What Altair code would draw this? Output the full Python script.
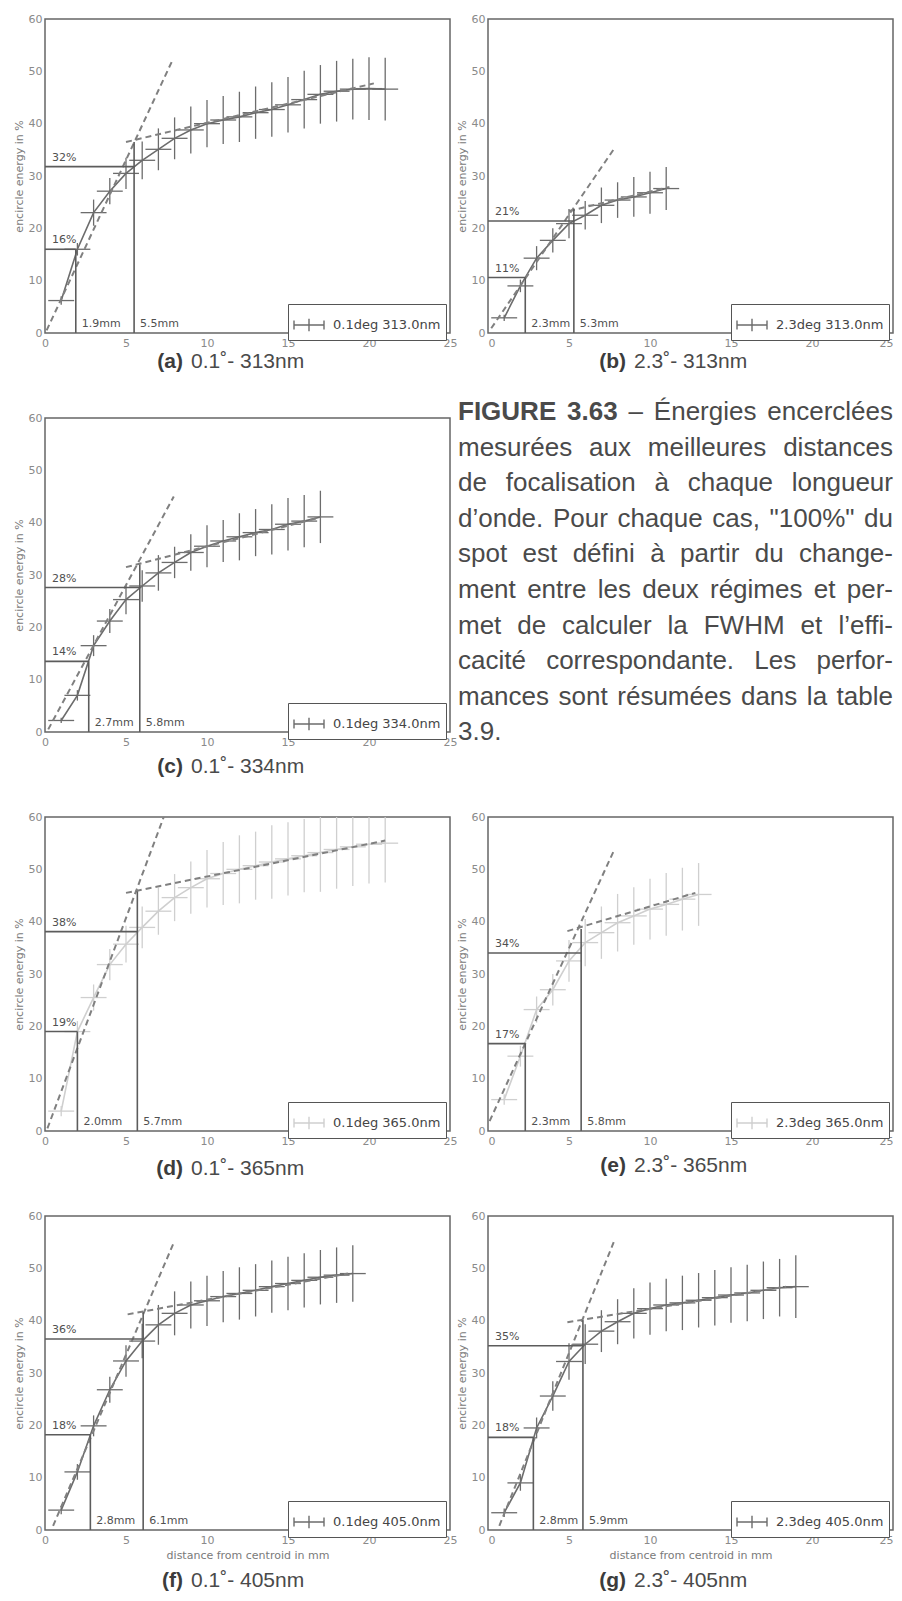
import altair as alt
import pandas as pd

# ---------------- data ----------------
DIST = [1, 2, 3, 4, 5, 6, 7, 8, 9, 10, 11, 12, 13, 14, 15, 16, 17, 18, 19, 20, 21]
X_TICKS = [0, 5, 10, 15, 20, 25]
Y_TICKS = [0, 10, 20, 30, 40, 50, 60]
XERR = 0.8

# (a) 0.1deg 313nm
A_Y = [6.2, 16.0, 23.0, 27.1, 30.5, 33.0, 35.1, 37.2, 38.8, 40.0, 40.7, 41.3, 42.1, 42.7, 43.6, 44.6, 45.6, 46.2, 46.6, 46.7, 46.6]
A_YERR = [0.8, 1.2, 2.5, 2.5, 3.0, 3.6, 4.0, 4.0, 4.5, 4.5, 4.6, 4.8, 5.0, 5.2, 5.3, 5.5, 5.6, 5.8, 5.8, 6.0, 6.0]
A_STEEP = ([0.1, 7.85], [0.5, 52.0])
A_FLAT = ([5.0, 20.3], [36.5, 47.7])
A_CUT_X = [1.9, 5.5]
A_CUT_Y = [16.0, 31.8]
A_KNEE = 36.5
A_PCT = ["16%", "32%"]
A_MM = ["1.9mm", "5.5mm"]

# (b) 2.3deg 313nm
B_Y = [2.9, 9.0, 14.3, 17.7, 20.9, 22.5, 24.4, 25.4, 26.0, 26.8, 27.6]
B_YERR = [0.6, 1.2, 2.3, 2.3, 2.8, 2.7, 3.4, 3.4, 3.8, 4.0, 4.1]
B_STEEP = ([0.2, 7.85], [0.9, 35.5])
B_FLAT = ([5.0, 11.2], [23.3, 27.9])
B_CUT_X = [2.3, 5.3]
B_CUT_Y = [10.6, 21.4]
B_KNEE = 23.7
B_PCT = ["11%", "21%"]
B_MM = ["2.3mm", "5.3mm"]

# (c) 0.1deg 334nm
C_Y = [2.2, 7.0, 16.5, 21.2, 25.3, 27.9, 30.4, 32.4, 34.3, 35.5, 36.5, 37.3, 38.1, 38.7, 39.7, 40.3, 41.1]
C_YERR = [0.5, 1.0, 2.0, 2.3, 2.8, 3.0, 3.4, 3.0, 3.5, 4.0, 4.0, 4.5, 4.5, 4.8, 5.0, 5.0, 5.0]
C_STEEP = ([0.2, 7.95], [0.5, 45.0])
C_FLAT = ([5.0, 17.0], [31.5, 41.0])
C_CUT_X = [2.7, 5.85]
C_CUT_Y = [13.5, 27.6]
C_KNEE = 32.0
C_PCT = ["14%", "28%"]
C_MM = ["2.7mm", "5.8mm"]

# (d) 0.1deg 365nm
D_Y = [3.8, 19.0, 25.5, 31.8, 35.7, 38.9, 42.0, 44.6, 46.5, 48.2, 49.2, 50.0, 50.7, 51.4, 52.0, 52.6, 53.2, 53.8, 54.3, 54.8, 55.0]
D_YERR = [1.0, 2.0, 2.5, 3.0, 3.5, 4.0, 4.5, 4.5, 5.0, 5.5, 6.0, 6.5, 6.5, 7.0, 7.0, 7.0, 7.5, 7.5, 7.5, 7.5, 7.5]
D_STEEP = ([0.15, 7.45], [0.5, 61.0])
D_FLAT = ([5.0, 21.0], [45.5, 55.5])
D_CUT_X = [2.0, 5.7]
D_CUT_Y = [19.0, 38.1]
D_KNEE = 45.8
D_PCT = ["19%", "38%"]
D_MM = ["2.0mm", "5.7mm"]

# (e) 2.3deg 365nm
E_Y = [6.0, 14.3, 23.2, 27.0, 32.5, 36.0, 37.9, 39.8, 41.1, 42.4, 43.3, 44.3, 45.2]
E_YERR = [1.0, 2.0, 2.5, 3.0, 4.0, 4.5, 5.0, 5.5, 5.5, 5.8, 6.0, 6.0, 6.0]
E_STEEP = ([0.1, 7.76], [1.9, 53.5])
E_FLAT = ([4.9, 12.8], [38.2, 45.5])
E_CUT_X = [2.3, 5.75]
E_CUT_Y = [16.7, 34.0]
E_KNEE = 38.6
E_PCT = ["17%", "34%"]
E_MM = ["2.3mm", "5.8mm"]

# (f) 0.1deg 405nm
F_Y = [3.8, 11.1, 19.9, 26.8, 32.3, 36.1, 39.2, 41.4, 43.0, 43.8, 44.6, 45.2, 45.8, 46.5, 47.1, 47.7, 48.3, 48.7, 49.0]
F_YERR = [0.8, 1.5, 2.0, 2.5, 3.0, 3.3, 3.8, 4.2, 4.5, 4.8, 4.9, 5.0, 5.0, 5.0, 5.1, 5.2, 5.2, 5.3, 5.4]
F_STEEP = ([0.5, 7.96], [0.8, 55.0])
F_FLAT = ([5.1, 18.7], [41.2, 49.0])
F_CUT_X = [2.8, 6.06]
F_CUT_Y = [18.2, 36.5]
F_KNEE = 41.6
F_PCT = ["18%", "36%"]
F_MM = ["2.8mm", "6.1mm"]

# (g) 2.3deg 405nm
G_Y = [3.3, 9.0, 19.5, 25.6, 32.2, 35.5, 38.0, 39.8, 41.4, 42.3, 43.0, 43.4, 43.9, 44.4, 44.9, 45.3, 45.8, 46.3, 46.5]
G_YERR = [0.8, 1.5, 2.0, 2.8, 3.5, 3.8, 4.0, 4.3, 4.8, 5.0, 5.0, 5.2, 5.2, 5.3, 5.3, 5.4, 5.5, 5.5, 6.0]
G_STEEP = ([0.7, 7.76], [0.8, 55.0])
G_FLAT = ([4.9, 18.4], [39.7, 46.5])
G_CUT_X = [2.8, 5.86]
G_CUT_Y = [17.7, 35.2]
G_KNEE = 40.1
G_PCT = ["18%", "35%"]
G_MM = ["2.8mm", "5.9mm"]

LEGENDS = ["0.1deg 313.0nm", "2.3deg 313.0nm", "0.1deg 334.0nm", "0.1deg 365.0nm",
           "2.3deg 365.0nm", "0.1deg 405.0nm", "2.3deg 405.0nm"]
TAGS = ["(a)", "(b)", "(c)", "(d)", "(e)", "(f)", "(g)"]
SUBCAPS = ["0.1˚- 313nm", "2.3˚- 313nm", "0.1˚- 334nm", "0.1˚- 365nm",
           "2.3˚- 365nm", "0.1˚- 405nm", "2.3˚- 405nm"]

CAPTION = [
    "FIGURE 3.63 – Énergies encerclées",
    "mesurées aux meilleures distances",
    "de focalisation à chaque longueur",
    "d’onde. Pour chaque cas, \"100%\" du",
    "spot est défini à partir du change-",
    "ment entre les deux régimes et per-",
    "met de calculer la FWHM et l’effi-",
    "cacité correspondante. Les perfor-",
    "mances sont résumées dans la table",
    "3.9.",
]

# ---------------- styling ----------------
W, H = 405, 314
GAP_X = 38
DARK = "#6c6c6c"
LIGHT = "#cfcfcf"
REF = "#5c5c5c"
DASH = "#808080"
TXT = "#505050"
SYMBOL = "M-1,0H1M-1,-0.3V0.3M0,-0.42V0.42M1,-0.3V0.3"


def panel(y, yerr, steep, flat, cut_x, cut_y, knee, pct, mm, idx, color, cap_dy, xtitle, flush):
    n = len(y)
    pts = pd.DataFrame({"x": DIST[:n], "y": y, "yerr": yerr})
    pts["lo"] = pts["y"] - pts["yerr"]
    pts["hi"] = pts["y"] + pts["yerr"]
    pts["xl"] = pts["x"] - XERR
    pts["xr"] = pts["x"] + XERR
    pts["series"] = LEGENDS[idx]

    xs = alt.Scale(domain=[0, 25], nice=False, zero=False)
    ys = alt.Scale(domain=[0, 60], nice=False, zero=False)
    xax = alt.Axis(values=X_TICKS, grid=False, ticks=False, domain=False, labelFlush=flush,
                   labelOverlap=False, labelFont="DejaVu Sans", labelFontSize=11,
                   labelColor="#8a8a8a", labelPadding=4, titleFont="DejaVu Sans",
                   titleFontSize=11, titleFontWeight="normal", titleColor="#7a7a7a",
                   titlePadding=4)
    yax = alt.Axis(values=Y_TICKS, grid=False, ticks=False, domain=False, labelFlush=False,
                   labelOverlap=False, labelFont="DejaVu Sans", labelFontSize=11,
                   labelColor="#8a8a8a", labelPadding=3, titleFont="DejaVu Sans",
                   titleFontSize=11, titleFontWeight="normal", titleColor="#7a7a7a",
                   titlePadding=4)
    ytitle = "encircle energy in %"

    def X(f):
        return alt.X(f, type="quantitative", scale=xs, axis=xax, title=xtitle)

    def Y(f):
        return alt.Y(f, type="quantitative", scale=ys, axis=yax, title=ytitle)

    base = alt.Chart(pts)
    vbar = base.mark_rule(clip=True, color=color, strokeWidth=1.3).encode(
        x=X("x"), y=Y("lo"), y2=alt.Y2("hi"))
    hbar = base.mark_rule(clip=True, color=color, strokeWidth=1.3).encode(
        x=X("xl"), x2=alt.X2("xr"), y=Y("y"))
    line = base.mark_line(clip=True, strokeWidth=1.6).encode(
        x=X("x"), y=Y("y"),
        color=alt.Color("series:N", scale=alt.Scale(range=[color]),
                        legend=alt.Legend(title=None, orient="none", legendX=W - 162, legendY=285,
                                          strokeColor="#555555", fillColor="white", padding=5,
                                          cornerRadius=0, symbolType=SYMBOL, symbolSize=900,
                                          symbolStrokeWidth=1.4, labelFont="DejaVu Sans",
                                          labelFontSize=13, labelColor="#454545",
                                          labelOffset=8)))

    fits = pd.DataFrame({"fx": steep[0] + flat[0], "fy": steep[1] + flat[1],
                         "seg": ["steep", "steep", "flat", "flat"]})
    fit_lines = alt.Chart(fits).mark_line(clip=True, color=DASH, strokeWidth=2,
                                          strokeDash=[6, 4]).encode(
        x=X("fx"), y=Y("fy"), detail="seg:N")

    ref = pd.DataFrame({
        "xa": [0, cut_x[0], 0, cut_x[1]],
        "xb": [cut_x[0], cut_x[0], cut_x[1], cut_x[1]],
        "ya": [cut_y[0], 0, cut_y[1], 0],
        "yb": [cut_y[0], cut_y[0], cut_y[1], knee],
    })
    ref_rules = alt.Chart(ref).mark_rule(color=REF, strokeWidth=1.6).encode(
        x=X("xa"), x2=alt.X2("xb"), y=Y("ya"), y2=alt.Y2("yb"))

    pct_df = pd.DataFrame({"lx": [0, 0], "ly": cut_y, "t": pct})
    pct_txt = alt.Chart(pct_df).mark_text(align="left", baseline="middle", dx=7, dy=-9,
                                          font="DejaVu Sans", fontSize=11, color=TXT).encode(
        x=X("lx"), y=Y("ly"), text="t:N")
    mm_df = pd.DataFrame({"lx": cut_x, "ly": [0, 0], "t": mm})
    mm_txt = alt.Chart(mm_df).mark_text(align="left", baseline="middle", dx=6, dy=-9,
                                        font="DejaVu Sans", fontSize=11, color=TXT).encode(
        x=X("lx"), y=Y("ly"), text="t:N")

    tag = alt.Chart(pd.DataFrame({"t": [TAGS[idx]]})).mark_text(
        align="right", baseline="middle", font="Liberation Sans", fontSize=21,
        fontWeight="bold", color="#3c3c3c").encode(
        text="t:N", x=alt.value(138), y=alt.value(H + cap_dy))
    sub = alt.Chart(pd.DataFrame({"t": [SUBCAPS[idx]]})).mark_text(
        align="left", baseline="middle", font="Liberation Sans", fontSize=21,
        color="#4a4a4a").encode(
        text="t:N", x=alt.value(146), y=alt.value(H + cap_dy))

    return alt.layer(vbar, hbar, line, fit_lines, ref_rules, pct_txt, mm_txt, tag, sub).properties(
        width=W, height=H)


# ---------------- caption block (justified) ----------------
ARIAL = dict(zip("abcdefghijklmnopqrstuvwxyz",
                 [556, 556, 500, 556, 556, 278, 556, 556, 222, 222, 500, 222, 833, 556, 556, 556,
                  556, 333, 500, 278, 556, 500, 722, 500, 500, 500]))
ARIAL.update(dict(zip("ABCDEFGHIJKLMNOPQRSTUVWXYZ",
                      [667, 667, 722, 722, 667, 611, 778, 722, 278, 500, 667, 556, 833, 722, 778,
                       667, 778, 722, 667, 611, 722, 667, 944, 667, 667, 611])))
ARIAL.update({c: 556 for c in "0123456789éèàâ"})
ARIAL.update({"É": 667, " ": 278, ".": 278, ",": 278, "-": 333, "–": 556, '"': 355, "%": 889,
              "’": 222})
CAP_FS = 26
CAP_LEFT, CAP_RIGHT = -30, 405
CAP_TOP, CAP_STEP = -6, 35.6


def tw(s):
    return sum(ARIAL.get(c, 556) for c in s) * CAP_FS / 1000.0


rows = []
for i, line in enumerate(CAPTION):
    words = line.split(" ")
    widths = [tw(w) for w in words]
    last = i == len(CAPTION) - 1
    if not last and len(words) > 1:
        gap = (CAP_RIGHT - CAP_LEFT - sum(widths)) / (len(words) - 1)
    else:
        gap = tw(" ")
    x = CAP_LEFT
    for j, (w, wd) in enumerate(zip(words, widths)):
        if (not last) and j == len(words) - 1 and len(words) > 1:
            rows.append({"px": CAP_RIGHT, "py": CAP_TOP + i * CAP_STEP, "word": w, "kind": "right"})
        else:
            kind = "bold" if (i == 0 and j < 2) else "left"
            rows.append({"px": x, "py": CAP_TOP + i * CAP_STEP, "word": w, "kind": kind})
        x += wd + gap
words_df = pd.DataFrame(rows)


def cap_layer(kind, align, weight):
    return alt.Chart(words_df).transform_filter(alt.datum.kind == kind).mark_text(
        align=align, baseline="middle", font="Liberation Sans", fontSize=CAP_FS,
        fontWeight=weight, color="#4a4a4a").encode(
        x=alt.X("px:Q", scale=None, axis=None),
        y=alt.Y("py:Q", scale=None, axis=None),
        text="word:N")


caption = alt.layer(cap_layer("bold", "left", "bold"), cap_layer("left", "left", "normal"),
                    cap_layer("right", "right", "normal")).properties(
    width=W, height=H, view=alt.ViewBackground(strokeOpacity=0))

# ---------------- assemble ----------------
xt = "distance from centroid in mm"
pa = panel(A_Y, A_YERR, A_STEEP, A_FLAT, A_CUT_X, A_CUT_Y, A_KNEE, A_PCT, A_MM, 0, DARK, 29, None, False)
pb = panel(B_Y, B_YERR, B_STEEP, B_FLAT, B_CUT_X, B_CUT_Y, B_KNEE, B_PCT, B_MM, 1, DARK, 29, None, True)
pc = panel(C_Y, C_YERR, C_STEEP, C_FLAT, C_CUT_X, C_CUT_Y, C_KNEE, C_PCT, C_MM, 2, DARK, 35, None, False)
pd_ = panel(D_Y, D_YERR, D_STEEP, D_FLAT, D_CUT_X, D_CUT_Y, D_KNEE, D_PCT, D_MM, 3, LIGHT, 38, None, False)
pe = panel(E_Y, E_YERR, E_STEEP, E_FLAT, E_CUT_X, E_CUT_Y, E_KNEE, E_PCT, E_MM, 4, LIGHT, 35, None, True)
pf = panel(F_Y, F_YERR, F_STEEP, F_FLAT, F_CUT_X, F_CUT_Y, F_KNEE, F_PCT, F_MM, 5, DARK, 51, xt, False)
pg = panel(G_Y, G_YERR, G_STEEP, G_FLAT, G_CUT_X, G_CUT_Y, G_KNEE, G_PCT, G_MM, 6, DARK, 51, xt, True)

chart = alt.concat(pa, pb, pc, caption, pd_, pe, pf, pg, columns=2,
                   spacing={"row": 85, "column": GAP_X}, bounds="flush").resolve_scale(
    color="independent").properties(
    padding={"left": 4, "top": 4, "right": 0, "bottom": 0}, background="white"
).configure_view(stroke="#666666", strokeWidth=1.5)

chart.save("out.html", embed_options={"renderer": "svg", "actions": False})
